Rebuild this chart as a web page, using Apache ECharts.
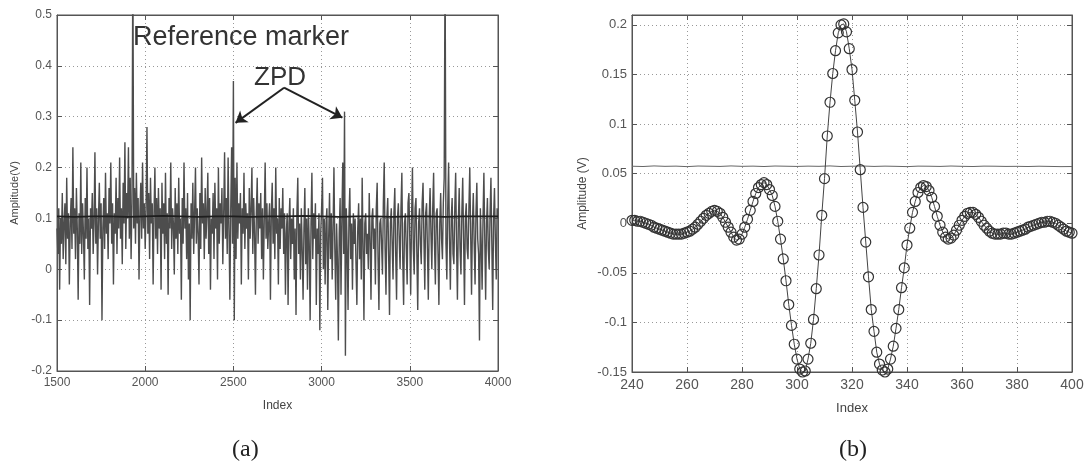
<!DOCTYPE html>
<html>
<head>
<meta charset="utf-8">
<script src="https://cdn.jsdelivr.net/npm/echarts@6/dist/echarts.min.js"></script>
<style>
  html, body { margin: 0; padding: 0; background: #fff; }
  #chart { width: 1091px; height: 471px; }
</style>
</head>
<body>
<div id="chart"></div>
<script>
// (a) raw interferogram, one value every 5 samples from index 1500
const indexA0 = 1500
const indexAStep = 5
const traceA = [
  0.08, 0.03, 0.12, -0.04, 0.10, 0.05, 0.15, 0.02, 0.09, 0.13, 0.01, 0.18, 0.06, 0.11, -0.03, 0.09, 0.14, 0.04, 0.24, 0.07,
  0.12, 0.02, 0.16, 0.08, -0.06, 0.11, 0.05, 0.21, 0.03, 0.13, 0.07, -0.02, 0.14, 0.06, 0.20, 0.04, 0.10, -0.07, 0.12, 0.08,
  0.15, 0.03, 0.09, 0.23, 0.05, 0.12, -0.01, 0.10, 0.17, 0.06, 0.13, -0.10, 0.08, 0.14, 0.04, 0.19, 0.07, 0.11, 0.02, 0.16,
  0.09, 0.21, 0.05, 0.13, -0.03, 0.11, 0.07, 0.18, 0.03, 0.14, 0.08, 0.22, 0.06, 0.12, 0.01, 0.17, 0.09, 0.25, 0.04, 0.15,
  0.10, 0.24, 0.06, 0.18, 0.02, 0.13, 0.62, 0.08, 0.16, 0.05, 0.19, 0.09, 0.14, -0.02, 0.11, 0.17, 0.06, 0.21, 0.08, 0.13,
  0.04, 0.12, 0.28, 0.07, 0.15, 0.02, 0.18, 0.09, 0.13, -0.03, 0.11, 0.20, 0.06, 0.14, 0.03, 0.16, 0.08, 0.12, -0.04, 0.17,
  0.07, 0.13, 0.02, 0.19, 0.05, 0.11, -0.05, 0.14, 0.08, 0.21, 0.04, 0.12, 0.09, -0.01, 0.16, 0.06, 0.13, 0.03, 0.18, 0.07,
  0.10, -0.06, 0.14, 0.05, 0.21, 0.08, 0.12, 0.02, 0.15, -0.02, 0.09, -0.10, 0.13, 0.06, 0.17, 0.03, 0.11, 0.20, 0.05, 0.12,
  0.07, -0.03, 0.15, 0.04, 0.22, 0.09, 0.13, 0.02, 0.16, 0.06, 0.11, 0.19, 0.03, 0.14, -0.04, 0.10, 0.07, 0.15, 0.02, 0.17,
  0.08, 0.12, -0.02, 0.20, 0.05, 0.13, 0.09, 0.16, 0.01, 0.11, 0.23, 0.06, 0.14, 0.03, 0.22, 0.08, -0.06, 0.12, 0.24, 0.05,
  0.37, -0.10, 0.18, 0.02, 0.21, 0.06, 0.13, 0.09, 0.15, -0.03, 0.12, 0.07, 0.19, 0.04, 0.13, 0.08, 0.11, -0.02, 0.16, 0.06,
  0.12, 0.20, 0.03, 0.14, 0.07, -0.05, 0.11, 0.18, 0.05, 0.13, 0.08, 0.15, 0.02, 0.12, -0.02, 0.10, 0.21, 0.06, 0.13, 0.04,
  0.09, 0.13, -0.06, 0.11, 0.17, 0.05, 0.12, 0.02, 0.20, 0.07, 0.10, -0.03, 0.14, 0.04, 0.12, 0.08, 0.16, 0.03, 0.11, -0.05,
  0.07, 0.11, -0.07, 0.09, 0.14, 0.02, 0.10, 0.05, 0.12, -0.02, 0.08, -0.09, 0.11, 0.18, 0.03, 0.09, -0.02, 0.12, 0.04, -0.06,
  0.08, 0.16, 0.01, 0.10, -0.04, 0.12, 0.05, -0.10, 0.09, 0.19, 0.02, 0.11, 0.06, 0.13, -0.07, 0.08, 0.03, 0.11, -0.12, 0.07,
  0.12, 0.18, 0.00, 0.10, -0.03, 0.09, 0.12, -0.08, 0.06, 0.15, 0.02, 0.11, -0.02, 0.08, 0.20, 0.04, -0.06, 0.09, 0.02, -0.14,
  0.07, 0.14, -0.05, 0.10, 0.21, 0.03, 0.31, -0.17, 0.12, 0.04, -0.08, 0.10, 0.16, 0.02, 0.09, -0.04, 0.11, 0.05, 0.10, 0.01,
  -0.07, 0.08, 0.13, 0.02, 0.10, -0.02, 0.18, 0.05, -0.10, 0.09, 0.11, 0.03, 0.07, 0.00, 0.15, 0.06, -0.06, 0.10, 0.12, 0.04,
  0.08, -0.03, 0.12, 0.17, 0.02, -0.08, 0.09, 0.10, 0.05, -0.01, 0.13, 0.21, 0.04, -0.05, 0.10, 0.14, 0.03, -0.09, 0.09, 0.12,
  0.05, -0.02, 0.11, 0.16, 0.03, -0.06, 0.10, 0.13, 0.06, 0.00, 0.12, 0.19, 0.02, -0.07, 0.09, 0.11, 0.04, -0.03, 0.13, 0.15,
  0.06, -0.05, 0.10, 0.20, 0.04, -0.01, 0.12, 0.14, 0.03, -0.08, 0.09, 0.12, 0.05, 0.01, 0.13, 0.17, 0.06, -0.04, 0.11, 0.13,
  0.04, -0.06, 0.10, 0.16, 0.07, 0.00, 0.12, 0.19, 0.05, -0.03, 0.11, 0.12, 0.03, -0.07, 0.09, 0.15, 0.06, 0.02, 0.13, 0.18,
  0.62, 0.05, -0.02, 0.12, 0.21, 0.06, -0.04, 0.10, 0.14, 0.03, 0.01, 0.12, 0.19, 0.05, -0.06, 0.09, 0.16, 0.04, -0.01, 0.11,
  0.18, 0.06, -0.07, 0.10, 0.13, 0.04, 0.02, 0.12, 0.20, 0.07, -0.05, 0.09, 0.15, 0.05, -0.03, 0.11, 0.17, 0.06, 0.03, -0.14,
  0.12, 0.05, -0.04, 0.10, 0.19, 0.06, -0.06, 0.09, 0.14, 0.04, 0.00, 0.11, 0.18, 0.05, -0.08, 0.10, 0.16, 0.06, -0.02, 0.12,
  0.10
]
// (a) dark mean level, one value every 100 samples
const levelAStep = 100
const levelA = [
  0.104, 0.103, 0.104, 0.104, 0.103, 0.104, 0.105, 0.104, 0.103, 0.104,
  0.104, 0.103, 0.104, 0.104, 0.105, 0.104, 0.103, 0.104, 0.104, 0.103,
  0.104, 0.104, 0.103, 0.104, 0.104, 0.104
]
// ZPD arrows: [tail, head] in data units
const zpdArrows = [
  [[2787, 0.357], [2512, 0.288]],
  [[2787, 0.357], [3118, 0.298]]
]

// (b) zoom around ZPD, one value per index from 240
const indexB0 = 240
const traceB = [
  0.003, 0.003, 0.002, 0.002, 0.001, 0.000, -0.001, -0.002, -0.004, -0.005,
  -0.006, -0.007, -0.008, -0.009, -0.010, -0.011, -0.011, -0.011, -0.011, -0.010,
  -0.009, -0.008, -0.006, -0.004, -0.001, 0.002, 0.005, 0.008, 0.010, 0.012,
  0.013, 0.012, 0.010, 0.006, 0.001, -0.004, -0.009, -0.014, -0.017, -0.016,
  -0.011, -0.004, 0.004, 0.013, 0.022, 0.030, 0.036, 0.039, 0.041, 0.039,
  0.034, 0.028, 0.017, 0.002, -0.016, -0.036, -0.058, -0.082, -0.103, -0.122,
  -0.137, -0.147, -0.150, -0.149, -0.137, -0.121, -0.097, -0.066, -0.032, 0.008,
  0.045, 0.088, 0.122, 0.151, 0.174, 0.192, 0.200, 0.201, 0.193, 0.176,
  0.155, 0.124, 0.092, 0.054, 0.016, -0.019, -0.054, -0.087, -0.109, -0.130,
  -0.142, -0.148, -0.150, -0.147, -0.137, -0.124, -0.106, -0.087, -0.065, -0.045,
  -0.022, -0.005, 0.011, 0.022, 0.031, 0.036, 0.038, 0.037, 0.033, 0.026,
  0.017, 0.007, -0.002, -0.009, -0.014, -0.016, -0.015, -0.012, -0.007, -0.002,
  0.003, 0.007, 0.010, 0.011, 0.011, 0.009, 0.006, 0.002, -0.002, -0.005,
  -0.008, -0.010, -0.011, -0.011, -0.011, -0.010, -0.010, -0.011, -0.011, -0.010,
  -0.009, -0.008, -0.007, -0.006, -0.004, -0.003, -0.002, -0.001, 0.000, 0.001,
  0.001, 0.002, 0.002, 0.001, 0.000, -0.002, -0.004, -0.006, -0.008, -0.009,
  -0.010
]
// (b) reference level, one value every 4 indices
const levelBStep = 4
const levelB = [
  0.0575, 0.0572, 0.0578, 0.0574, 0.0576, 0.0571, 0.0577, 0.0575, 0.0573, 0.0578,
  0.0574, 0.0576, 0.0572, 0.0577, 0.0575, 0.0573, 0.0576, 0.0574, 0.0578, 0.0572,
  0.0575, 0.0577, 0.0573, 0.0576, 0.0574, 0.0571, 0.0576, 0.0575, 0.0573, 0.0577,
  0.0574, 0.0572, 0.0576, 0.0575, 0.0573, 0.0574, 0.0572, 0.0575, 0.0573, 0.0571,
  0.0572
]

const pairs = (x0, step, arr) => arr.map((v, i) => [x0 + i * step, v])

const labelFont = 'Liberation Sans Narrow, Liberation Sans, Arial, sans-serif'
const gridLine = { show: true, lineStyle: { color: '#999', type: [1, 3], width: 1 } }
const tick = { show: true, inside: true, length: 5, lineStyle: { color: '#555' } }
const line = { show: true, onZero: false, lineStyle: { color: '#555', width: 1 } }
const plain = (v) => String(Math.round(v * 1000) / 1000)

// mirror axes on top / right carry only the inward ticks
const mirrorX = (gridIndex, min, max, interval) => ({
  gridIndex, type: 'value', position: 'top', min, max, interval,
  axisLine: line, axisTick: tick, axisLabel: { show: false }, splitLine: { show: false }
})
const mirrorY = (gridIndex, min, max, interval) => ({
  gridIndex, type: 'value', position: 'right', min, max, interval,
  axisLine: line, axisTick: tick, axisLabel: { show: false }, splitLine: { show: false }
})

const chart = echarts.init(document.getElementById('chart'))

chart.setOption({
  backgroundColor: '#fff',
  animation: false,
  grid: [
    { left: 57, right: 593, top: 15, bottom: 100, show: true, borderColor: '#555', borderWidth: 1 },
    { left: 632, right: 19, top: 15, bottom: 99, show: true, borderColor: '#555', borderWidth: 1 }
  ],
  xAxis: [
    {
      gridIndex: 0, type: 'value', min: 1500, max: 4000, interval: 500,
      name: 'Index', nameLocation: 'middle', nameGap: 29,
      nameTextStyle: { color: '#444', fontSize: 12, fontFamily: labelFont },
      axisLine: line, axisTick: tick, splitLine: gridLine,
      axisLabel: { color: '#555', fontSize: 12, fontFamily: labelFont, margin: 6, formatter: plain }
    },
    {
      gridIndex: 1, type: 'value', min: 240, max: 400, interval: 20,
      name: 'Index', nameLocation: 'middle', nameGap: 30,
      nameTextStyle: { color: '#444', fontSize: 13, fontFamily: labelFont },
      axisLine: line, axisTick: tick, splitLine: gridLine,
      axisLabel: { color: '#555', fontSize: 14, fontFamily: labelFont, margin: 6, formatter: plain }
    },
    mirrorX(0, 1500, 4000, 500),
    mirrorX(1, 240, 400, 20)
  ],
  yAxis: [
    {
      gridIndex: 0, type: 'value', min: -0.2, max: 0.5, interval: 0.1,
      name: 'Amplitude(V)', nameLocation: 'middle', nameGap: 37,
      nameTextStyle: { color: '#444', fontSize: 11, fontFamily: labelFont },
      axisLine: line, axisTick: tick, splitLine: gridLine,
      axisLabel: { color: '#555', fontSize: 12, fontFamily: labelFont, margin: 5, formatter: plain }
    },
    {
      gridIndex: 1, type: 'value', min: -0.15, max: 0.21, interval: 0.05,
      name: 'Amplitude (V)', nameLocation: 'middle', nameGap: 43,
      nameTextStyle: { color: '#444', fontSize: 12, fontFamily: labelFont },
      axisLine: line, axisTick: tick, splitLine: gridLine,
      axisLabel: { color: '#555', fontSize: 13, fontFamily: labelFont, margin: 5, showMaxLabel: false, formatter: plain }
    },
    mirrorY(0, -0.2, 0.5, 0.1),
    mirrorY(1, -0.15, 0.21, 0.05)
  ],
  series: [
    {
      type: 'line', xAxisIndex: 0, yAxisIndex: 0,
      data: pairs(indexA0, indexAStep, traceA),
      symbol: 'none', clip: true,
      lineStyle: { color: '#4d4d4d', width: 1.4 },
      markLine: {
        silent: true, animation: false,
        symbol: ['none', 'arrow'], symbolSize: 11,
        label: { show: false },
        lineStyle: { color: '#222', width: 2, type: 'solid' },
        data: zpdArrows.map(([a, b]) => [{ coord: a }, { coord: b }])
      }
    },
    {
      type: 'line', xAxisIndex: 0, yAxisIndex: 0,
      data: pairs(indexA0, levelAStep, levelA),
      symbol: 'none',
      lineStyle: { color: '#1e1e1e', width: 1.6 }
    },
    {
      type: 'line', xAxisIndex: 1, yAxisIndex: 1,
      data: pairs(indexB0, levelBStep, levelB),
      symbol: 'none',
      lineStyle: { color: '#666', width: 1 }
    },
    {
      type: 'line', xAxisIndex: 1, yAxisIndex: 1,
      data: pairs(indexB0, 1, traceB),
      symbol: 'circle', symbolSize: 10,
      lineStyle: { color: '#444', width: 1 },
      itemStyle: { color: 'rgba(0,0,0,0)', borderColor: '#333', borderWidth: 1.2 }
    }
  ],
  graphic: [
    { type: 'text', left: 133, top: 24, style: { text: 'Reference marker', fill: '#333', font: '27px Liberation Sans, Arial, sans-serif' } },
    { type: 'text', left: 254, top: 65, style: { text: 'ZPD', fill: '#333', font: '26px Liberation Sans, Arial, sans-serif' } },
    { type: 'text', left: 232, top: 438, style: { text: '(a)', fill: '#222', font: '24px Liberation Serif, DejaVu Serif, serif' } },
    { type: 'text', left: 839, top: 438, style: { text: '(b)', fill: '#222', font: '24px Liberation Serif, DejaVu Serif, serif' } }
  ]
})
</script>
</body>
</html>
